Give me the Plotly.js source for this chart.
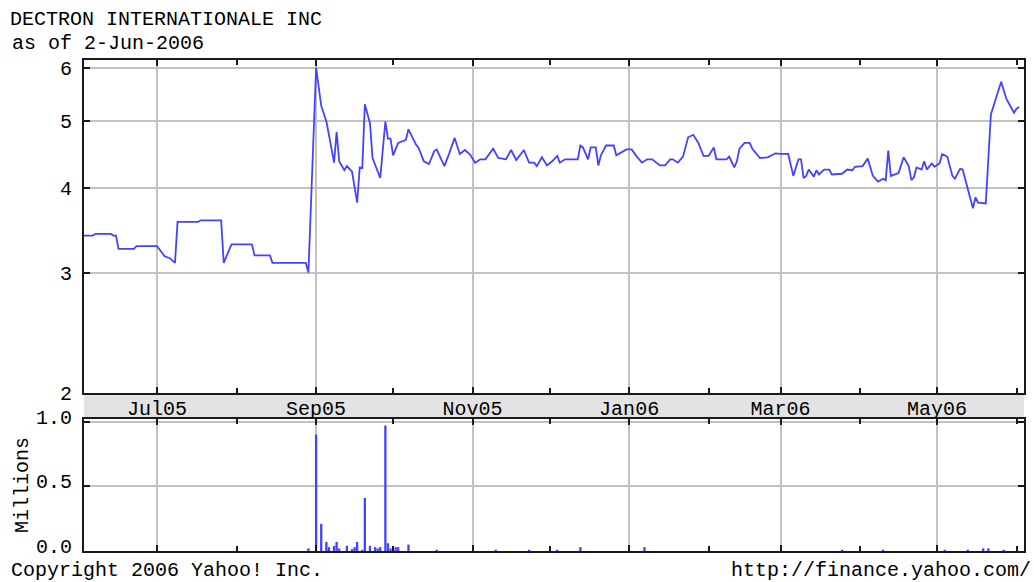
<!DOCTYPE html>
<html>
<head>
<meta charset="utf-8">
<script src="https://cdn.plot.ly/plotly-3.0.1.min.js"></script>
<style>html,body{margin:0;padding:0;background:#fff}#chart{width:1034px;height:582px}</style>
</head>
<body>
<div id="chart"></div>
<script>
// ---- data ----
const chartTitle = 'DECTRON INTERNATIONALE INC';
const asOfLabel = 'as of 2-Jun-2006';
const copyrightLabel = 'Copyright 2006 Yahoo! Inc.';
const sourceLabel = 'http://finance.yahoo.com/';

const priceDates = [
'2005-06-02','2005-06-06','2005-06-07','2005-06-13','2005-06-14','2005-06-15','2005-06-16','2005-06-22','2005-06-23','2005-07-01',
'2005-07-04','2005-07-06','2005-07-08','2005-07-09','2005-07-17','2005-07-18','2005-07-26','2005-07-27','2005-07-30','2005-08-07',
'2005-08-08','2005-08-14','2005-08-15','2005-08-28','2005-08-29',
'2005-09-01','2005-09-03','2005-09-05','2005-09-06','2005-09-08','2005-09-09','2005-09-10','2005-09-12','2005-09-13','2005-09-15',
'2005-09-17','2005-09-18','2005-09-19','2005-09-20','2005-09-22','2005-09-23','2005-09-26','2005-09-28','2005-09-29','2005-09-30',
'2005-10-01','2005-10-03','2005-10-06','2005-10-07','2005-10-10','2005-10-11','2005-10-13','2005-10-15','2005-10-17','2005-10-18',
'2005-10-21','2005-10-23','2005-10-25','2005-10-27','2005-10-29','2005-10-31',
'2005-11-02','2005-11-04','2005-11-06','2005-11-09','2005-11-11','2005-11-14','2005-11-16','2005-11-18','2005-11-21','2005-11-23',
'2005-11-25','2005-11-26','2005-11-28','2005-11-30',
'2005-12-02','2005-12-04','2005-12-05','2005-12-07','2005-12-12','2005-12-13','2005-12-14','2005-12-16','2005-12-17','2005-12-19',
'2005-12-20','2005-12-21','2005-12-23','2005-12-26','2005-12-27','2005-12-31',
'2006-01-02','2006-01-04','2006-01-06','2006-01-08','2006-01-10','2006-01-13','2006-01-15','2006-01-17','2006-01-18','2006-01-20',
'2006-01-22','2006-01-24','2006-01-26','2006-01-28','2006-01-30',
'2006-02-01','2006-02-03','2006-02-04','2006-02-08','2006-02-09','2006-02-11','2006-02-12','2006-02-13','2006-02-15','2006-02-17',
'2006-02-18','2006-02-21','2006-02-24','2006-02-27',
'2006-03-01','2006-03-04','2006-03-06','2006-03-08','2006-03-09','2006-03-10','2006-03-11','2006-03-12','2006-03-14','2006-03-15',
'2006-03-16','2006-03-18','2006-03-20','2006-03-21','2006-03-25','2006-03-27','2006-03-29','2006-03-30',
'2006-04-02','2006-04-04','2006-04-06','2006-04-08','2006-04-10','2006-04-11','2006-04-12','2006-04-13','2006-04-16','2006-04-18',
'2006-04-20','2006-04-21','2006-04-22','2006-04-23','2006-04-25','2006-04-26','2006-04-27','2006-04-29','2006-04-30',
'2006-05-02','2006-05-03','2006-05-05','2006-05-07','2006-05-08','2006-05-10','2006-05-11','2006-05-13','2006-05-15','2006-05-16',
'2006-05-17','2006-05-20','2006-05-22','2006-05-26','2006-05-28','2006-05-31','2006-06-01','2006-06-02'
];
const priceValues = [
3.40,3.40,3.42,3.42,3.40,3.40,3.25,3.25,3.28,3.28,
3.17,3.15,3.10,3.56,3.56,3.58,3.58,3.10,3.30,3.30,
3.18,3.18,3.10,3.10,3.00,
6.00,5.27,5.00,4.78,4.35,4.83,4.37,4.24,4.30,4.22,
3.80,4.28,4.27,5.30,4.97,4.42,4.13,5.00,4.72,4.72,
4.46,4.65,4.70,4.87,4.62,4.57,4.37,4.33,4.52,4.55,
4.30,4.50,4.73,4.48,4.54,4.47,
4.35,4.40,4.40,4.56,4.42,4.40,4.54,4.39,4.54,4.35,
4.35,4.30,4.43,4.31,
4.37,4.45,4.35,4.40,4.40,4.61,4.58,4.40,4.58,4.58,
4.31,4.46,4.61,4.61,4.46,4.55,
4.55,4.44,4.35,4.40,4.40,4.31,4.31,4.40,4.40,4.35,
4.44,4.74,4.78,4.65,4.45,
4.45,4.58,4.40,4.40,4.44,4.28,4.37,4.56,4.65,4.65,
4.56,4.42,4.43,4.49,
4.48,4.48,4.16,4.40,4.40,4.13,4.16,4.25,4.15,4.24,
4.18,4.25,4.25,4.18,4.19,4.25,4.24,4.29,
4.30,4.41,4.16,4.08,4.12,4.10,4.53,4.16,4.20,4.43,
4.30,4.10,4.14,4.28,4.25,4.37,4.25,4.34,4.29,
4.34,4.48,4.44,4.16,4.12,4.26,4.25,3.98,3.73,3.87,
3.80,3.79,5.12,5.72,5.40,5.15,5.22,5.25
];

const volumeDates = [
'2005-08-29','2005-09-01','2005-09-03','2005-09-05','2005-09-06','2005-09-08','2005-09-09','2005-09-10','2005-09-13','2005-09-15',
'2005-09-16','2005-09-17','2005-09-19','2005-09-20','2005-09-22','2005-09-24','2005-09-25','2005-09-26','2005-09-28','2005-09-29',
'2005-09-30','2005-10-02','2005-10-03','2005-10-07','2005-10-18','2005-11-10','2005-11-23','2005-12-04','2005-12-13','2006-01-07',
'2006-03-25','2006-04-10','2006-05-04','2006-05-13','2006-05-19','2006-05-21','2006-05-27'
];
const volumeMillions = [
0.02,0.90,0.21,0.07,0.03,0.04,0.07,0.02,0.04,0.015,
0.03,0.07,0.01,0.41,0.04,0.03,0.02,0.03,0.97,0.06,
0.02,0.03,0.03,0.05,0.01,0.01,0.01,0.01,0.03,0.03,
0.01,0.01,0.01,0.01,0.02,0.02,0.01
];

const priceTickValues = [2, 3, 4, 5, 6];
const volumeTickValues = [0, 0.5, 1.0];
const volumeTickLabels = ['0.0', '0.5', '1.0'];
const volumeAxisTitle = 'Millions';

// ---- geometry ----
const W = 1034, H = 582, ML = 84, MR = 10, MT = 60, MB = 31;
const plotH = H - MT - MB;
const plotW = W - ML - MR;
const py = p => (H - MB - p) / plotH;
const px = p => (p - ML) / plotW;

const FONT = '"Liberation Mono", "DejaVu Sans Mono", monospace';
const FS = 20;
const LINE_BLUE = '#4343ff';
const GRID = '#c2c2c2';
const FRAME = '#1a1a1a';

const xRange = ['2005-06-02 13:00', '2006-06-03 21:40'];

const commonX = {
  type: 'date',
  range: xRange,
  tickmode: 'linear',
  tick0: '2005-07-01',
  dtick: 'M2',
  ticks: 'inside',
  ticklen: 6,
  tickwidth: 2,
  tickcolor: FRAME,
  showline: true,
  linecolor: FRAME,
  linewidth: 2,
  mirror: 'ticks',
  showgrid: true,
  gridcolor: GRID,
  gridwidth: 2,
  zeroline: false,
  fixedrange: true,
  minor: {tick0: '2005-07-01', dtick: 'M1', ticks: 'inside', ticklen: 5, tickwidth: 2, tickcolor: FRAME, showgrid: false}
};

const traces = [
  {
    type: 'scatter', mode: 'lines',
    x: priceDates, y: priceValues,
    xaxis: 'x', yaxis: 'y',
    line: {color: LINE_BLUE, width: 1.8},
    hoverinfo: 'skip'
  },
  {
    type: 'bar',
    x: volumeDates, y: volumeMillions,
    xaxis: 'x2', yaxis: 'y2',
    marker: {color: LINE_BLUE, line: {width: 0}},
    width: 86400000 * 0.9,
    hoverinfo: 'skip'
  }
];

const layout = {
  width: W, height: H,
  margin: {l: ML, r: MR, t: MT, b: MB, pad: 0},
  paper_bgcolor: '#ffffff',
  plot_bgcolor: '#ffffff',
  showlegend: false,
  font: {family: FONT, size: FS, color: '#000'},
  title: {
    text: chartTitle,
    xref: 'container', yref: 'container',
    x: 10 / W, xanchor: 'left',
    y: 1 - 18 / H, yanchor: 'middle',
    font: {family: FONT, size: FS, color: '#000'}
  },
  xaxis: Object.assign({}, commonX, {
    domain: [0, 1], anchor: 'y',
    showticklabels: true,
    tickformat: '%b%y',
    ticklabelstandoff: -4,
    tickfont: {family: FONT, size: FS, color: '#000'}
  }),
  yaxis: {
    domain: [py(393), 1], anchor: 'x',
    type: 'log',
    range: [Math.log10(1.997), Math.log10(6.155)],
    tickmode: 'array',
    tickvals: priceTickValues,
    ticktext: priceTickValues.map(String),
    ticks: 'inside', ticklen: 6, tickwidth: 2, tickcolor: FRAME,
    ticklabelstandoff: 6,
    showline: true, linecolor: FRAME, linewidth: 2, mirror: 'ticks',
    showgrid: true, gridcolor: GRID, gridwidth: 2,
    zeroline: false, fixedrange: true,
    tickfont: {family: FONT, size: FS, color: '#000'}
  },
  xaxis2: Object.assign({}, commonX, {
    domain: [0, 1], anchor: 'y2', matches: 'x',
    showticklabels: false
  }),
  yaxis2: {
    domain: [0, py(419)], anchor: 'x2',
    range: [0, 1.02],
    tickmode: 'array',
    tickvals: volumeTickValues,
    ticktext: volumeTickLabels,
    ticks: 'inside', ticklen: 6, tickwidth: 2, tickcolor: FRAME,
    ticklabelstandoff: 6,
    ticklabelshift: -5,
    showline: true, linecolor: FRAME, linewidth: 2, mirror: 'ticks',
    showgrid: true, gridcolor: GRID, gridwidth: 2,
    zeroline: false, fixedrange: true,
    tickfont: {family: FONT, size: FS, color: '#000'},
    title: {text: volumeAxisTitle, standoff: 2, font: {family: FONT, size: FS, color: '#000'}}
  },
  shapes: [
    {type: 'rect', xref: 'paper', yref: 'paper', x0: 0, x1: 1, y0: py(419), y1: py(393),
     fillcolor: '#e3e3e3', line: {width: 0}, layer: 'below'}
  ],
  annotations: [
    {text: asOfLabel, xref: 'paper', yref: 'paper', x: px(10), y: py(43), xanchor: 'left', yanchor: 'middle',
     showarrow: false, font: {family: FONT, size: FS, color: '#000'}},
    {text: copyrightLabel, xref: 'paper', yref: 'paper', x: px(10), y: py(583), xanchor: 'left', yanchor: 'bottom',
     showarrow: false, borderpad: 0, font: {family: FONT, size: FS, color: '#000'}},
    {text: sourceLabel, xref: 'paper', yref: 'paper', x: px(1032), y: py(583), xanchor: 'right', yanchor: 'bottom',
     showarrow: false, borderpad: 0, font: {family: FONT, size: FS, color: '#000'}}
  ]
};

Plotly.newPlot('chart', traces, layout, {displayModeBar: false, staticPlot: true});
</script>
</body>
</html>
